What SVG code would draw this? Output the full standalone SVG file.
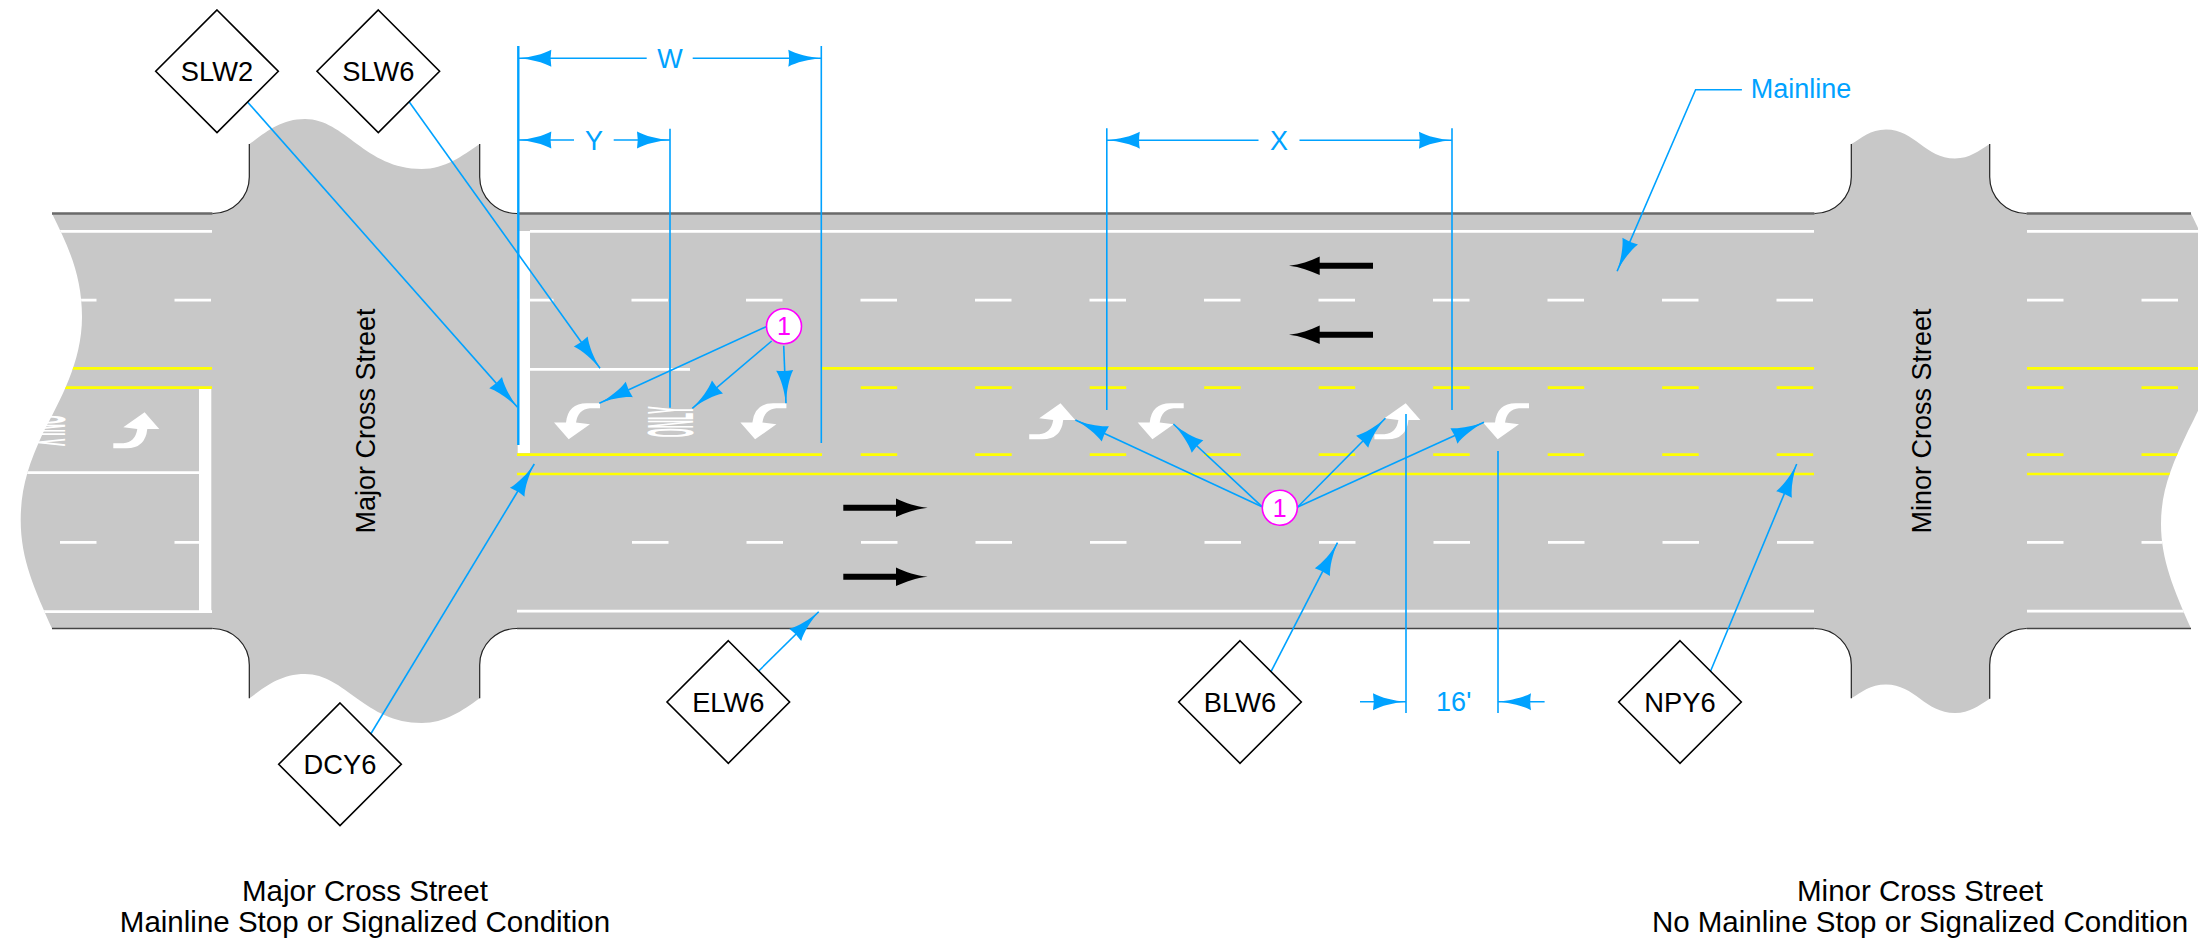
<svg xmlns="http://www.w3.org/2000/svg" width="2198" height="941" viewBox="0 0 2198 941">
<style>
text{font-family:"Liberation Sans",Arial,sans-serif}
.road{fill:#c8c8c8;stroke:none}
.edge{fill:none;stroke:#6a6a6a;stroke-width:2.5}
.edge2{fill:none;stroke:#444;stroke-width:1.5}
.curb{fill:none;stroke:#222;stroke-width:1.2}
.w{stroke:#fff;stroke-width:2.7;fill:none}
.y{stroke:#ff0;stroke-width:2.7;fill:none}
.wd{stroke:#fff;stroke-width:2.7;fill:none;stroke-dasharray:36.5 78}
.yd{stroke:#ff0;stroke-width:2.7;fill:none;stroke-dasharray:36.5 78}
.bar{fill:#fff}
.turn{fill:#fff}
.blk{fill:#000}
.only{fill:#fff;font-size:20px;font-weight:bold}
.c{fill:none;stroke:#00a2ff;stroke-width:1.6}
.c2{fill:none;stroke:#00a2ff;stroke-width:2.4}
.a{marker-end:url(#ah)}
.dim{fill:#00a2ff;font-size:27px;text-anchor:middle}
.sign{fill:#fff;stroke:#000;stroke-width:1.6}
.st{fill:#000;font-size:27.3px;text-anchor:middle}
.cir{fill:#fff;stroke:#f0f;stroke-width:1.6}
.ct{fill:#f0f;font-size:25px;text-anchor:middle}
.rot{fill:#000;font-size:27px;text-anchor:middle}
.cap{fill:#000;font-size:29.5px;text-anchor:middle}
</style>
<defs>
<marker id="ah" markerUnits="userSpaceOnUse" markerWidth="34" markerHeight="18" refX="34" refY="9" orient="auto">
<path d="M34,9 C22,8 9,5 1,.5 Q2.5,9 1,17.5 C9,13 22,10 34,9Z" fill="#00a2ff"/>
</marker>
<path id="rd" d="M52,213.5 H212.5 A36.8,36.5 0 0 0 249.3,177 V144 C265,133 280,119 305,119 C345,119 365,169 421.7,169 C445,169 462,156 479.7,144 V177 A37.3,36.5 0 0 0 517,213.5 H1814.5 A36.8,36.5 0 0 0 1851.3,177 V144 C1862,138 1870,129.4 1886,129.4 C1915,129.4 1925,158.4 1955,158.4 C1970,158.4 1978,151 1989.7,144 V177 A36.8,36.5 0 0 0 2026.5,213.5 H2191 C2207,246 2221,275 2221,317 C2221,362 2205,398 2188,431 C2172,465 2161,490 2161,524 C2161,560 2174,590 2191,628.5 H2026.5 A36.8,36.5 0 0 0 1989.7,665 V698.8 C1978,706 1970,713 1955,713 C1925,713 1915,684.5 1886,684.5 C1870,684.5 1862,692 1851.3,698.3 V665 A36.8,36.5 0 0 0 1814.5,628.5 H517 A37.3,36.5 0 0 0 479.7,665 V698.3 C462,711 445,723 421.7,723 C365,723 345,674 305,674 C280,674 265,687 249.3,698.3 V665 A36.8,36.5 0 0 0 212.5,628.5 H52 C35,590 20.7,560 20.7,520 C20.7,490 28,465 43,433 C60,400 82,362 82,317 C82,275 68,246 52,213.5Z"/>
<clipPath id="rc"><use href="#rd"/></clipPath>
<path id="turn" d="M0,0 V5 H-10 Q-22,6 -24,19.3 L-10,21 L-31.3,36 L-46,19.3 L-34,19.3 Q-32,0 -13.3,0Z"/>
</defs>

<g id="road">
<use href="#rd" class="road"/>
<path class="edge" d="M52,213.5 H212.5 M517,213.5 H1814.5 M2026.5,213.5 H2191"/>
<path class="edge2" d="M52,628.5 H212.5 M517,628.5 H1814.5 M2026.5,628.5 H2191"/>
<path class="curb" d="M212.5,213.5 A36.8,36.5 0 0 0 249.3,177 V144 M479.7,144 V177 A37.3,36.5 0 0 0 517,213.5 M1814.5,213.5 A36.8,36.5 0 0 0 1851.3,177 V144 M1989.7,144 V177 A36.8,36.5 0 0 0 2026.5,213.5 M2026.5,628.5 A36.8,36.5 0 0 0 1989.7,665 V698.8 M1851.3,698.3 V665 A36.8,36.5 0 0 0 1814.5,628.5 M517,628.5 A37.3,36.5 0 0 0 479.7,665 V698.3 M249.3,698.3 V665 A36.8,36.5 0 0 0 212.5,628.5"/>
</g>

<g id="markings" clip-path="url(#rc)">
<path class="w" d="M50,231.3 H212 M530,231.3 H1814 M2027,231.3 H2198 M530,369.3 H690 M20,472.7 H199 M20,611.7 H212 M517,611.2 H1814 M2027,611.2 H2198"/>
<path class="wd" d="M60,300.2 H212 M517,300.2 H1814 M2027,300.2 H2198 M60,542.3 H212 M632,542.3 H1814 M2027,542.3 H2198"/>
<path class="y" d="M50,368.3 H212 M822,368.3 H1814 M2027,368.3 H2198 M50,387.7 H212 M517,454.7 H822 M517,474 H1814 M2027,474 H2198"/>
<path class="yd" d="M860.7,387.7 H1814 M860.7,454.7 H1814 M2027,387.7 H2198 M2027,454.7 H2198"/>
<rect class="bar" x="199" y="389" width="12.3" height="223.5"/>
<rect class="bar" x="517.7" y="231" width="12.3" height="222"/>
</g>

<g id="pavement-arrows">
<use href="#turn" class="turn" transform="translate(600,403.3)"/>
<use href="#turn" class="turn" transform="translate(786.4,403.3)"/>
<use href="#turn" class="turn" transform="translate(1183.7,403.3)"/>
<use href="#turn" class="turn" transform="translate(1529,403.3)"/>
<use href="#turn" class="turn" transform="translate(1029.2,439.3) rotate(180)"/>
<use href="#turn" class="turn" transform="translate(1374.4,439.3) rotate(180)"/>
<use href="#turn" class="turn" transform="translate(113.3,448.3) rotate(180)"/>
<text class="only" transform="translate(693.3,437.3) rotate(-90) scale(.58,3.26)">ONLY</text>
<text class="only" transform="translate(20,415) rotate(90) scale(.58,3.26)">ONLY</text>
<path class="blk" d="M843.3,504.7 H896 V498.4 C906,503 916,506.5 927.7,507.7 C916,509 906,512.5 896,517 V510.7 H843.3Z"/>
<path class="blk" d="M843.3,573.7 H896 V567.4 C906,572 916,575.5 927.7,576.7 C916,578 906,581.5 896,586 V579.7 H843.3Z"/>
<path class="blk" d="M1373,262.7 H1319.7 V256.4 C1310,261 1300,264.5 1289,265.7 C1300,267 1310,270.5 1319.7,275 V268.7 H1373Z"/>
<path class="blk" d="M1373,331.7 H1319.7 V325.4 C1310,330 1300,333.5 1289,334.7 C1300,336 1310,339.5 1319.7,344 V337.7 H1373Z"/>
</g>

<g id="street-labels">
<text class="rot" transform="translate(375,421) rotate(-90)">Major Cross Street</text>
<text class="rot" transform="translate(1931,421) rotate(-90)">Minor Cross Street</text>
<text class="cap" x="365" y="900.7">Major Cross Street</text>
<text class="cap" x="365" y="932.3">Mainline Stop or Signalized Condition</text>
<text class="cap" x="1920" y="900.7">Minor Cross Street</text>
<text class="cap" x="1920" y="932.3">No Mainline Stop or Signalized Condition</text>
</g>

<g id="connectors">
<path class="c2" d="M518.3,46 V445"/>
<path class="c" d="M821.3,46 V443 M670,128.7 V407.7 M1106.8,128.3 V410 M1452,128.3 V410 M1406,414 V713 M1498,451 V713"/>
<path class="c a" d="M646.7,58.3 H518.3"/>
<path class="c a" d="M692.7,58.3 H821.3"/>
<path class="c a" d="M574,140 H518.3"/>
<path class="c a" d="M613.7,140 H670"/>
<path class="c a" d="M1258.5,140.3 H1106.8"/>
<path class="c a" d="M1299.5,140.3 H1452"/>
<path class="c a" d="M1360,701.7 H1406"/>
<path class="c a" d="M1544.6,701.7 H1498"/>
<path class="c a" d="M247.3,101.7 L517.5,407.3"/>
<path class="c a" d="M409.3,102 L600,368.3"/>
<path class="c a" d="M370.7,734 L534.3,464"/>
<path class="c a" d="M758.7,671 L818.7,611.7"/>
<path class="c a" d="M1271,671.7 L1337.5,542.7"/>
<path class="c a" d="M1710.3,671.7 L1796.7,464"/>
<path class="c a" d="M1741.9,89.7 H1695.6 L1617.1,271.3"/>
<path class="c a" d="M766,326.7 L599.3,403.3"/>
<path class="c a" d="M771.7,341 L692.3,408.3"/>
<path class="c a" d="M783.7,345.7 L786,403.3"/>
<path class="c a" d="M1262,506.7 L1075.4,420"/>
<path class="c a" d="M1262,506.7 L1173.4,424"/>
<path class="c a" d="M1297.7,507 L1385.4,418.3"/>
<path class="c a" d="M1297.7,507 L1484,422.3"/>
</g>

<g id="dimension-labels">
<text class="dim" x="670" y="68">W</text>
<text class="dim" x="594" y="150">Y</text>
<text class="dim" x="1279" y="150">X</text>
<text class="dim" x="1453.7" y="711">16'</text>
<text class="dim" x="1801" y="98.3">Mainline</text>
</g>

<g id="SLW2"><path class="sign" d="M217,10 L278.3,71.3 L217,132.6 L155.7,71.3Z"/><text class="st" x="217" y="81">SLW2</text></g>
<g id="SLW6"><path class="sign" d="M378.3,10 L439.6,71.3 L378.3,132.6 L317,71.3Z"/><text class="st" x="378.3" y="81">SLW6</text></g>
<g id="DCY6"><path class="sign" d="M340,703 L401.3,764.3 L340,825.6 L278.7,764.3Z"/><text class="st" x="340" y="774">DCY6</text></g>
<g id="ELW6"><path class="sign" d="M728.3,640.7 L789.6,702 L728.3,763.3 L667,702Z"/><text class="st" x="728.3" y="711.7">ELW6</text></g>
<g id="BLW6"><path class="sign" d="M1240,640.7 L1301.3,702 L1240,763.3 L1178.7,702Z"/><text class="st" x="1240" y="711.7">BLW6</text></g>
<g id="NPY6"><path class="sign" d="M1680,640.7 L1741.3,702 L1680,763.3 L1618.7,702Z"/><text class="st" x="1680" y="711.7">NPY6</text></g>
<g id="note-1a"><circle class="cir" cx="784" cy="326.3" r="17.5"/><text class="ct" x="784" y="335.3">1</text></g>
<g id="note-1b"><circle class="cir" cx="1279.8" cy="507.7" r="17.5"/><text class="ct" x="1279.8" y="516.7">1</text></g>
</svg>
